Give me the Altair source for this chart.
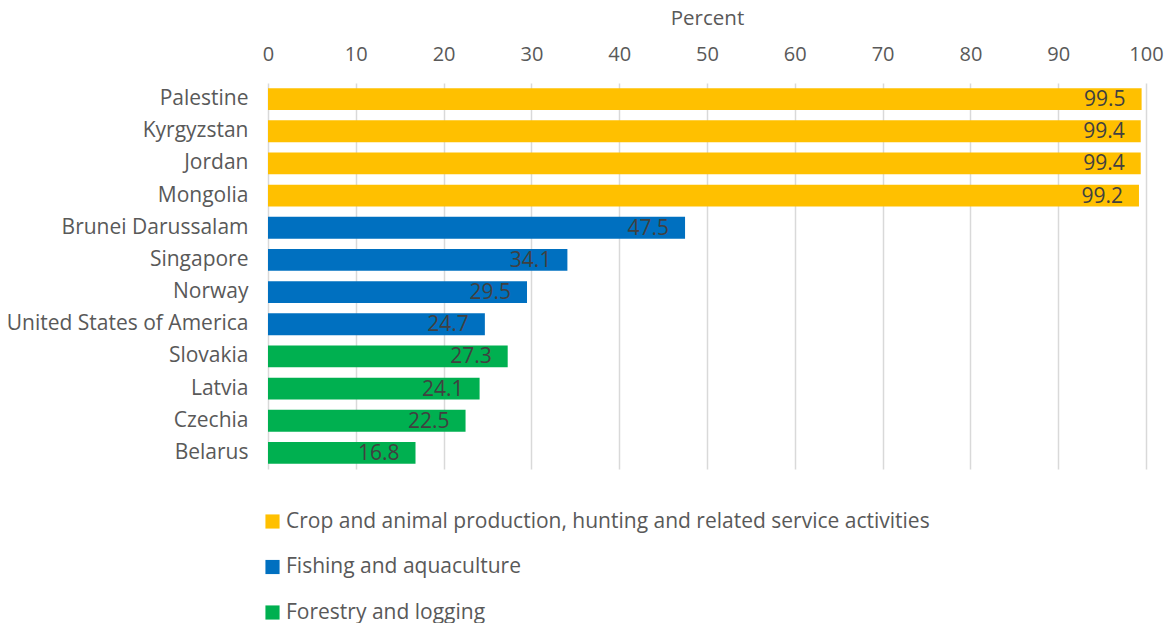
import altair as alt
import pandas as pd

countries = ["Palestine", "Kyrgyzstan", "Jordan", "Mongolia", "Brunei Darussalam",
             "Singapore", "Norway", "United States of America", "Slovakia", "Latvia",
             "Czechia", "Belarus"]
values = [99.5, 99.4, 99.4, 99.2, 47.5, 34.1, 29.5, 24.7, 27.3, 24.1, 22.5, 16.8]
sectors = ["Crop and animal production, hunting and related service activities"] * 4 + \
          ["Fishing and aquaculture"] * 4 + ["Forestry and logging"] * 4
sector_order = ["Crop and animal production, hunting and related service activities",
                "Fishing and aquaculture", "Forestry and logging"]
colors = ["#FFC000", "#0070C0", "#00B050"]

df = pd.DataFrame({"country": countries, "value": values, "sector": sectors})
df["label"] = df["value"].map(lambda v: f"{v:.1f}")

FONT = "Open Sans"

x = alt.X("value:Q", scale=alt.Scale(domain=[0, 100], nice=False),
          axis=alt.Axis(orient="top", title="Percent", values=list(range(0, 101, 10)),
                        grid=True, gridColor="#D9D9D9", gridWidth=1.5, domain=False,
                        ticks=False, labelFontSize=20, labelColor="#595959",
                        labelFont=FONT, titleFont=FONT, titleFontSize=20.5,
                        titleFontWeight="normal", titleColor="#595959",
                        labelPadding=19, titlePadding=16, labelFlush=False))
y = alt.Y("country:N", sort=countries, scale=alt.Scale(paddingInner=0.32, paddingOuter=0.16),
          axis=alt.Axis(title=None, domain=False, ticks=False, labelFontSize=21,
                        labelColor="#595959", labelFont=FONT, labelPadding=20,
                        labelLimit=400))

bars = alt.Chart(df).mark_bar().encode(
    x=x, y=y,
    color=alt.Color("sector:N", sort=sector_order,
                    scale=alt.Scale(domain=sector_order, range=colors),
                    legend=alt.Legend(title=None, orient="none", legendX=-6, legendY=428,
                                      direction="vertical", symbolType="square",
                                      symbolSize=200, symbolStrokeWidth=0,
                                      labelFontSize=21, labelFont=FONT,
                                      labelColor="#595959", rowPadding=23.5,
                                      labelOffset=3, labelLimit=1000))
)

text = alt.Chart(df).mark_text(align="right", baseline="middle", dx=-16, dy=1,
                               fontSize=21, font=FONT, color="#404040").encode(
    x="value:Q", y=alt.Y("country:N", sort=countries), text="label:N")

chart = (bars + text).properties(
    width=878, height=386,
    autosize=alt.AutoSizeParams(type="none"),
    padding={"left": 268, "top": 83, "right": 23, "bottom": 154},
    background="white"
).configure_view(stroke=None)

chart.save("out.html", embed_options={"renderer": "svg", "actions": False})
